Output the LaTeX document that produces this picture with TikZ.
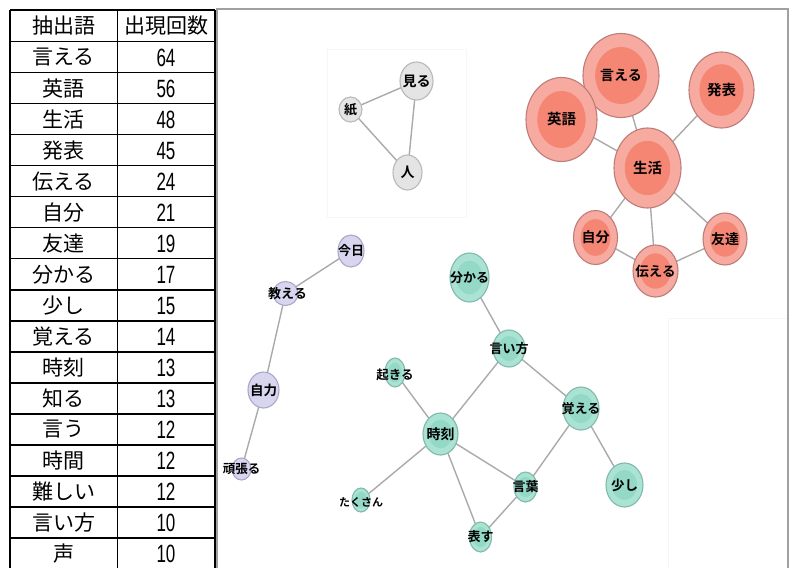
\documentclass[tikz,border=0pt]{standalone}
\usepackage{fontspec}
\newfontfamily\jp{Noto Sans CJK JP}
\newfontfamily\jpb{Noto Sans CJK JP Bold}
\newfontfamily\numf[FakeStretch=0.68]{Liberation Sans}
\usetikzlibrary{shapes.geometric,calc,backgrounds}
\definecolor{edgec}{RGB}{170,170,170}
\definecolor{framec}{RGB}{160,160,160}
\definecolor{faintc}{RGB}{246,246,246}
\definecolor{rout}{RGB}{247,170,160}
\definecolor{rin}{RGB}{246,134,116}
\definecolor{rbd}{RGB}{190,125,120}
\definecolor{gout}{RGB}{228,228,228}
\definecolor{gbd}{RGB}{185,185,185}
\definecolor{pout}{RGB}{216,213,238}
\definecolor{pbd}{RGB}{172,166,202}
\definecolor{tout}{RGB}{170,227,212}
\definecolor{tin}{RGB}{148,216,198}
\definecolor{tbd}{RGB}{128,186,170}
\begin{document}
\begin{tikzpicture}[x=1pt,y=-1pt,
  cell/.style={inner sep=0pt, font=\jp\fontsize{21}{21}\selectfont},
  num/.style={inner sep=0pt, font=\numf\fontsize{25}{25}\selectfont},
  grid/.style={line width=1.3pt, black},
  bub/.style 2 args={ellipse, inner sep=0pt, outer sep=0pt, minimum width=#1, minimum height=#2, line width=1.1pt},
  inner/.style={path picture={\fill[#1] let \p1=(path picture bounding box.north east), \p2=(path picture bounding box.center) in (\p2) ellipse ({0.68*(\x1-\x2)} and {0.68*(\y1-\y2)});}},
  rnode/.style={draw=rbd, fill=rout, inner=rin},
  gnode/.style={draw=gbd, fill=gout},
  pnode/.style={draw=pbd, fill=pout},
  tnode/.style={draw=tbd, fill=tout, inner=tin},
  lab/.style={inner sep=0pt, text=black, font=\jpb\fontsize{#1}{#1}\selectfont},
  lab/.default=13,
  edge/.style={draw=edgec, line width=1.4pt}]
\useasboundingbox (0,0) rectangle (792,568);
% table
\draw[grid] (10,10) -- (10,568);
\draw[grid] (117.5,10) -- (117.5,568);
\draw[grid] (215,10) -- (215,568);
\draw[grid] (10,10) -- (215,10);
\foreach \k in {0,...,16} {\draw[grid] (10,{41.7+31.02*\k}) -- (215,{41.7+31.02*\k});}
\node[cell] (h1) at (63.5,26) {抽出語};
\node[cell] (h2) at (166,26) {出現回数};
\foreach \w/\n [count=\i] in {言える/64,英語/56,生活/48,発表/45,伝える/24,自分/21,友達/19,分かる/17,少し/15,覚える/14,時刻/13,知る/13,言う/12,時間/12,難しい/12,言い方/10,声/10}{
  \node[cell] (w\i) at (63.5,{41.7+31.02*(\i-0.5)}) {\w};
  \node[num] (n\i) at (166,{41.7+31.02*(\i-0.5)+0.5}) {\n};
}
% red cluster
\node[bub={76pt}{84pt}, rnode, label={[lab=14]center:言える}] (iu) at (621,75.5) {};
\node[bub={71pt}{84pt}, rnode, label={[lab=14.5]center:英語}] (eigo) at (561.5,119.5) {};
\node[bub={65pt}{76pt}, rnode, label={[lab=14.5]center:発表}] (hap) at (721.5,90) {};
\node[bub={67pt}{80pt}, rnode, label={[lab=14.5]center:生活}] (seik) at (647.5,168) {};
\node[bub={44pt}{54pt}, rnode, label={[lab=14]center:自分}] (jib) at (595.5,237.5) {};
\node[bub={44pt}{52pt}, rnode, label={[lab=14]center:友達}] (tom) at (725,239) {};
\node[bub={45pt}{52pt}, rnode, label={[lab=13.5]center:伝える}] (tsu) at (655.5,271) {};
% gray cluster
\node[bub={33pt}{38pt}, gnode, label={[lab=14]center:見る}] (miru) at (416.5,81) {};
\node[bub={23pt}{25pt}, gnode, label={[lab=13]center:紙}] (kami) at (350.5,109.5) {};
\node[bub={29pt}{35pt}, gnode, label={[lab=14]center:人}] (hito) at (407.5,172.5) {};
% purple cluster
\node[bub={26pt}{32pt}, pnode, label={[lab]center:今日}] (kyou) at (351,251) {};
\node[bub={25pt}{24pt}, pnode, label={[lab,xshift=2pt]center:教える}] (oshi) at (285.5,293.5) {};
\node[bub={31pt}{36pt}, pnode, label={[lab=13.5]center:自力}] (jir) at (263.5,390) {};
\node[bub={19pt}{22pt}, pnode, label={[lab=12.5]center:頑張る}] (gan) at (241.5,469) {};
% teal cluster
\node[bub={39pt}{49pt}, tnode, label={[lab]center:分かる}] (wak) at (469.5,277.5) {};
\node[bub={32pt}{37pt}, tnode, label={[lab]center:言い方}] (iik) at (509,348.5) {};
\node[bub={20pt}{29pt}, tnode, label={[lab=12.5,yshift=-2pt]center:起きる}] (oki) at (395,372.5) {};
\node[bub={35pt}{42pt}, tnode, label={[lab=14]center:時刻}] (jik) at (440.5,434) {};
\node[bub={36pt}{43pt}, tnode, label={[lab]center:覚える}] (obo) at (581,408.5) {};
\node[bub={23pt}{30pt}, tnode, label={[lab]center:言葉}] (kot) at (525.5,487) {};
\node[bub={37pt}{44pt}, tnode, label={[lab=13.5]center:少し}] (suk) at (624.5,485) {};
\node[bub={22pt}{30pt}, tnode, label={[lab]center:表す}] (ara) at (480.5,537) {};
\node[bub={18pt}{24pt}, tnode, label={[lab=11,yshift=-2pt]center:たくさん}] (tak) at (361,500) {};
\begin{scope}[on background layer]
\fill[white] (0,0) rectangle (792,568);
% faint panels
\draw[faintc, line width=0.8pt] (327,49) rectangle (466,217);
\draw[faintc, line width=0.8pt] (668,318) -- (668,568);
\draw[faintc, line width=0.8pt] (668,318) -- (788,318);
% graph frame
\draw[framec, line width=2pt] (216,9) -- (788,9) -- (788,568);
\draw[framec, line width=2pt] (217,9) -- (217,568);
% edges
\draw[edge] (eigo) -- (iu);
\draw[edge] (iu) -- (seik);
\draw[edge] (eigo) -- (seik);
\draw[edge] (hap) -- (seik);
\draw[edge] (seik) -- (jib);
\draw[edge] (seik) -- (tsu);
\draw[edge] (seik) -- (tom);
\draw[edge] (jib) -- (tsu);
\draw[edge] (tom) -- (tsu);
\draw[edge] (kami) -- (miru);
\draw[edge] (kami) -- (hito);
\draw[edge] (miru) -- (hito);
\draw[edge] (kyou) -- (oshi);
\draw[edge] (oshi) -- (jir);
\draw[edge] (jir) -- (gan);
\draw[edge] (wak) -- (iik);
\draw[edge] (iik) -- (jik);
\draw[edge] (iik) -- (obo);
\draw[edge] (oki) -- (jik);
\draw[edge] (jik) -- (tak);
\draw[edge] (jik) -- (ara);
\draw[edge] (jik) -- (kot);
\draw[edge] (obo) -- (kot);
\draw[edge] (obo) -- (suk);
\draw[edge] (kot) -- (ara);
\end{scope}
\end{tikzpicture}
\end{document}
